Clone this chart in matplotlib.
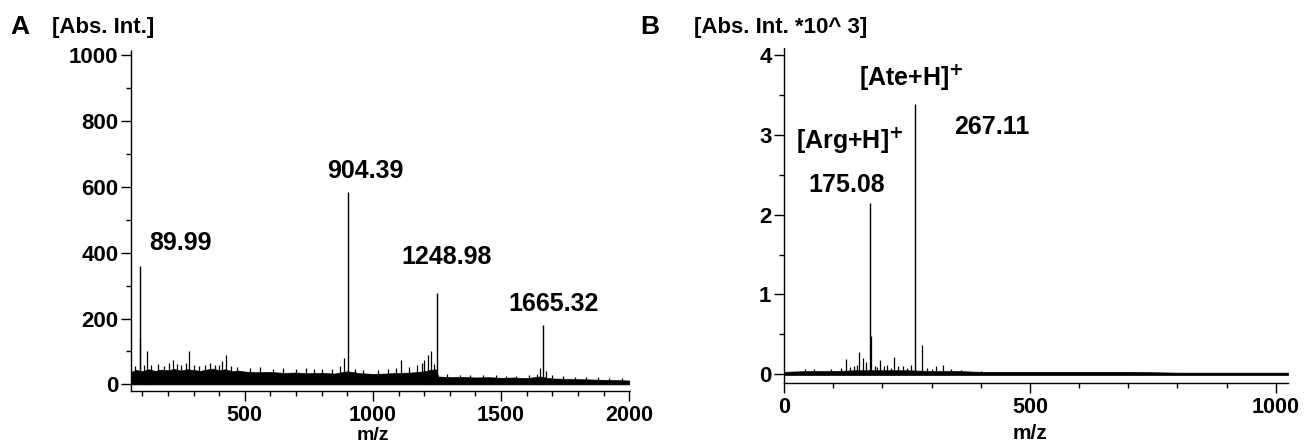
import numpy as np
import matplotlib
matplotlib.use('Agg')
import matplotlib.pyplot as plt
from matplotlib.ticker import MultipleLocator
import matplotlib.transforms as mtransforms

# panel A: labelled peaks
A_PEAK_MZ = [89.99, 904.39, 1248.98, 1665.32]
A_PEAK_INT = [360, 585, 278, 179]
A_PEAK_LABELS = ['89.99', '904.39', '1248.98', '1665.32']
# panel A: small peaks standing out of the noise
A_MINOR_MZ = [93, 119, 218, 237, 283, 384, 425, 771, 888, 1109, 1213, 1228, 1650,
              70, 105, 135, 160, 185, 205, 250, 270, 300, 320, 345, 365, 400, 410,
              445, 470, 520, 560, 610, 650, 700, 740, 800, 840, 870, 930, 960, 1020,
              1060, 1090, 1140, 1170, 1190, 1200, 1240, 1290, 1340, 1380, 1430, 1480,
              1520, 1560, 1610, 1640, 1675, 1700, 1740, 1790, 1830, 1880, 1920, 1970]
A_MINOR_INT = [140, 100, 75, 62, 100, 60, 88, 48, 80, 75, 90, 100, 50,
               55, 60, 58, 62, 57, 66, 60, 64, 58, 55, 60, 66, 58, 70,
               56, 54, 50, 52, 48, 50, 46, 50, 46, 48, 55, 48, 45, 44,
               46, 50, 52, 58, 65, 75, 62, 32, 30, 30, 28, 28,
               27, 26, 28, 32, 40, 28, 25, 24, 22, 22, 20, 19]
# panel A: upper edge of the noise band
A_NOISE_MZ = [56, 75, 100, 125, 150, 175, 200, 225, 250, 275, 300, 325, 350, 375, 400,
              425, 450, 475, 500, 550, 600, 650, 700, 750, 800, 850, 900, 950, 1000,
              1050, 1100, 1150, 1200, 1225, 1245, 1255, 1300, 1350, 1400, 1450, 1500,
              1550, 1600, 1650, 1680, 1700, 1750, 1800, 1850, 1900, 1950, 2000]
A_NOISE_INT = [38, 44, 40, 46, 41, 45, 43, 47, 42, 46, 44, 41, 45, 48, 43,
               46, 40, 42, 39, 37, 38, 35, 36, 34, 35, 33, 40, 34, 32,
               33, 35, 36, 40, 44, 46, 24, 22, 23, 21, 22, 20,
               21, 19, 24, 20, 18, 17, 16, 15, 14, 13, 12]

# panel B: labelled peaks
B_PEAK_MZ = [175.08, 267.11]
B_PEAK_INT = [2.14, 3.39]
B_MINOR_MZ = [43, 127, 143, 153, 160, 176.5, 185, 196, 210, 224, 243, 280, 309, 323,
              60, 95, 115, 135, 148, 166, 190, 203, 217, 232, 250, 258, 290, 300, 340, 360, 400]
B_MINOR_INT = [0.07, 0.19, 0.1, 0.28, 0.2, 0.48, 0.1, 0.18, 0.12, 0.22, 0.1, 0.37, 0.1, 0.12,
               0.07, 0.06, 0.08, 0.09, 0.12, 0.15, 0.09, 0.1, 0.08, 0.1, 0.08, 0.12, 0.08, 0.07,
               0.06, 0.05, 0.04]
B_NOISE_MZ = [0, 50, 100, 150, 200, 250, 300, 350, 400, 500, 600, 700, 800, 900, 1025]
B_NOISE_INT = [0.03, 0.04, 0.04, 0.05, 0.05, 0.05, 0.04, 0.04, 0.03, 0.03, 0.03, 0.03, 0.02, 0.02, 0.02]

FONT = ['Liberation Sans', 'DejaVu Sans']
plt.rcParams['font.family'] = FONT
plt.rcParams['font.weight'] = 'bold'
plt.rcParams['mathtext.default'] = 'bf'


def style_axes(ax):
    for s in ['top', 'right']:
        ax.spines[s].set_visible(False)
    for s in ['left', 'bottom']:
        ax.spines[s].set_linestyle((0, (1, 1)))
        ax.spines[s].set_linewidth(1.0)
    ax.tick_params(which='major', length=7, width=1, labelsize=16)
    ax.tick_params(axis='y', which='major', pad=2)
    ax.tick_params(axis='x', which='major', pad=3, labelsize=15.5)
    ax.tick_params(which='minor', length=3.5, width=1)
    for lab in ax.get_xticklabels() + ax.get_yticklabels():
        lab.set_fontweight('bold')


fig = plt.figure(figsize=(13.04, 4.44), dpi=100)

# ---- panel A ----
axA = fig.add_axes([131 / 1304, 1 - 391 / 444, 499 / 1304, 341 / 444])
axA.fill_between(A_NOISE_MZ, 0, A_NOISE_INT, color='black', lw=0.5)
axA.vlines(A_MINOR_MZ, 0, A_MINOR_INT, color='black', lw=0.9)
axA.vlines(A_PEAK_MZ, 0, A_PEAK_INT, color='black', lw=1)
axA.set_xlim(56, 2003)
axA.set_ylim(-20, 1015)
axA.set_xticks([500, 1000, 1500, 2000])
axA.set_yticks([0, 200, 400, 600, 800, 1000])
axA.xaxis.set_minor_locator(MultipleLocator(100))
axA.yaxis.set_minor_locator(MultipleLocator(100))
style_axes(axA)

a_label_pos = [(250, 428), (969, 648), (1289, 388), (1703, 245)]
for lab, (x, y) in zip(A_PEAK_LABELS, a_label_pos):
    axA.text(x, y, lab, ha='center', va='center', fontsize=18, fontweight='bold')

trA = mtransforms.blended_transform_factory(axA.transData, fig.transFigure)
axA.text(1000, 0, 'm/z', transform=trA, ha='center', va='bottom',
         fontsize=14, fontweight='bold')

# ---- panel B ----
axB = fig.add_axes([784 / 1304, 1 - 383 / 444, 504 / 1304, 336 / 444])
axB.fill_between(B_NOISE_MZ, -0.01, B_NOISE_INT, color='black', lw=0.5)
axB.vlines(B_MINOR_MZ, 0, B_MINOR_INT, color='black', lw=0.9)
axB.vlines(B_PEAK_MZ, 0, B_PEAK_INT, color='black', lw=1)
axB.set_xlim(0, 1025)
axB.set_ylim(-0.11, 4.1)
axB.set_xticks([0, 500, 1000])
axB.set_yticks([0, 1, 2, 3, 4])
axB.xaxis.set_minor_locator(MultipleLocator(100))
axB.yaxis.set_minor_locator(MultipleLocator(0.5))
style_axes(axB)

axB.text(260, 3.73, '[Ate+H]$^{+}$', ha='center', va='center', fontsize=18, fontweight='bold')
axB.text(423, 3.1, '267.11', ha='center', va='center', fontsize=18, fontweight='bold')
axB.text(133, 2.94, '[Arg+H]$^{+}$', ha='center', va='center', fontsize=18, fontweight='bold')
axB.text(127, 2.375, '175.08', ha='center', va='center', fontsize=18, fontweight='bold')

trB = mtransforms.blended_transform_factory(axB.transData, fig.transFigure)
axB.text(500, 1 / 444, 'm/z', transform=trB, ha='center', va='bottom',
         fontsize=15, fontweight='bold')

# panel letters and axis titles
fig.text(20 / 1304, 1 - 27 / 444, 'A', ha='center', va='center', fontsize=19, fontweight='bold')
fig.text(103 / 1304, 1 - 27 / 444, '[Abs. Int.]', ha='center', va='center', fontsize=16, fontweight='bold')
fig.text(650 / 1304, 1 - 27 / 444, 'B', ha='center', va='center', fontsize=19, fontweight='bold')
fig.text(781 / 1304, 1 - 27 / 444, '[Abs. Int. *10^ 3]', ha='center', va='center', fontsize=16, fontweight='bold')

fig.savefig('out.png', dpi=100)
